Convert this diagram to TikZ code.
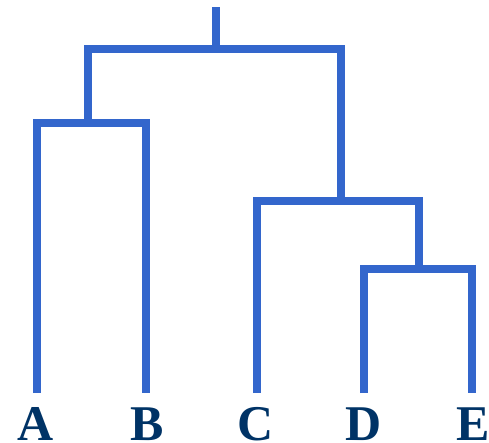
\documentclass[tikz,border=0pt]{standalone}
\usepackage{fontspec}
\setmainfont{Liberation Serif}
\definecolor{branch}{HTML}{3366CC}
\definecolor{lbl}{HTML}{003366}
\begin{document}
\begin{tikzpicture}[x=1pt,y=-1pt,
  link/.style={draw=branch,line width=7.5pt,line join=miter,line cap=butt},
  leaf/.style={font=\fontsize{50}{50}\selectfont\bfseries,text=lbl,anchor=base,inner sep=0pt}]
\useasboundingbox (0,0) rectangle (489,443);
% leaf labels
\node[leaf] (A) at (36,440) {A};
\node[leaf] (B) at (147,440) {B};
\node[leaf] (C) at (256,440) {C};
\node[leaf] (D) at (364,440) {D};
\node[leaf] (E) at (473,440) {E};
% leaf ends
\coordinate (a) at (37,393);
\coordinate (b) at (146,393);
\coordinate (c) at (257,393);
\coordinate (d) at (364,393);
\coordinate (e) at (472,393);
% merge heights
\coordinate (ab) at (88,123);
\coordinate (de) at (419,269);
\coordinate (cde) at (341,201);
\coordinate (root) at (216,49);
\coordinate (top) at (216,7);
% branches
\draw[link] (a) |- (ab) -| (b);
\draw[link] (d) |- (de) -| (e);
\draw[link] (c) |- (cde) -| (de);
\draw[link] (ab) |- (root) -| (cde);
\draw[link] (root) -- (top);
\end{tikzpicture}
\end{document}
